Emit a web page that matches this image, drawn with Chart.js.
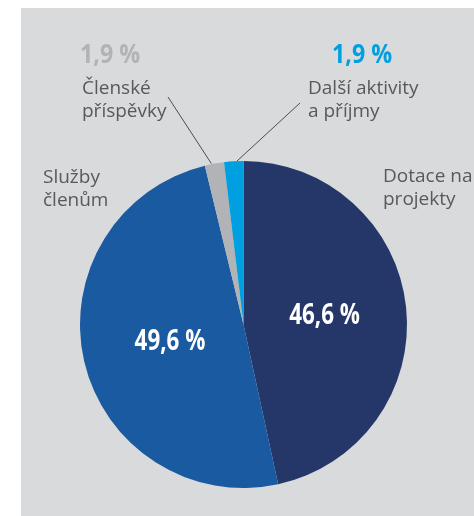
<!DOCTYPE html>
<html>
<head>
<meta charset="utf-8">
<script src="https://cdn.jsdelivr.net/npm/chart.js@4/dist/chart.umd.min.js"></script>
<style>
    html, body { margin: 0; padding: 0; background: #ffffff; }
    #wrap { position: relative; width: 474px; height: 516px; overflow: hidden; }
    #panel { position: absolute; left: 21px; top: 8px; width: 460px; height: 520px; background: #d9dadc; }
    #chart { position: absolute; left: 0; top: 0; }
</style>
</head>
<body>
<div id="wrap">
    <div id="panel"></div>
    <canvas id="chart" width="474" height="516"></canvas>
</div>
<script>
// order = clockwise from 12 o'clock
var categories = ['Dotace na projekty', 'Služby členům', 'Členské příspěvky', 'Další aktivity a příjmy'];
var shares = [46.6, 49.6, 1.9, 1.9];
var sliceColors = ['#253668', '#1a5aa0', '#b1b3b6', '#00a0e0'];

var TEXT_GREY = '#58595b';
var REGULAR = '"Open Sans", "Noto Sans", sans-serif';

function fmt(v) {
    return v.toFixed(1).replace('.', ',') + ' %';
}

// bold condensed look: squeeze the glyphs horizontally
function condensed(ctx, text, x, y, size, color, align, squeeze) {
    ctx.save();
    ctx.font = 'bold ' + size + 'px ' + REGULAR;
    ctx.fillStyle = color;
    ctx.textBaseline = 'alphabetic';
    var w = ctx.measureText(text).width * squeeze;
    var left = align === 'center' ? x - w / 2 : x;
    ctx.translate(left, y);
    ctx.scale(squeeze, 1);
    ctx.textAlign = 'left';
    ctx.fillText(text, 0, 0);
    ctx.restore();
}

function lines(ctx, rows, x, y) {
    ctx.save();
    ctx.font = '19px ' + REGULAR;
    ctx.fillStyle = TEXT_GREY;
    ctx.textAlign = 'left';
    ctx.textBaseline = 'alphabetic';
    rows.forEach(function (r, i) {
        ctx.fillText(r, x, y + i * 22.5);
    });
    ctx.restore();
}

function edgePoint(arc) {
    var mid = (arc.startAngle + arc.endAngle) / 2;
    return {
        x: arc.x + Math.cos(mid) * arc.outerRadius,
        y: arc.y + Math.sin(mid) * arc.outerRadius
    };
}

var labelPlugin = {
    id: 'sliceLabels',
    afterDatasetsDraw: function (chart) {
        var ctx = chart.ctx;
        var arcs = chart.getDatasetMeta(0).data;

        // big white values inside the two large slices
        [0, 1].forEach(function (i) {
            var a = arcs[i];
            var mid = (a.startAngle + a.endAngle) / 2;
            var d = a.outerRadius * 0.48;
            var x = a.x + Math.cos(mid) * d + 3;
            var y = a.y + Math.sin(mid) * d;
            condensed(ctx, fmt(shares[i]), x, y + 8, 28, '#ffffff', 'center', 0.8);
        });

        // leader lines for the two thin slices
        ctx.save();
        ctx.strokeStyle = '#4d4d4f';
        ctx.lineWidth = 1;
        var p = edgePoint(arcs[2]);
        ctx.beginPath();
        ctx.moveTo(168, 97);
        ctx.lineTo(p.x - 3, p.y);
        ctx.stroke();
        p = edgePoint(arcs[3]);
        ctx.beginPath();
        ctx.moveTo(300, 103);
        ctx.lineTo(p.x + 3, p.y);
        ctx.stroke();
        ctx.restore();

        condensed(ctx, fmt(shares[2]), 80, 63, 27, sliceColors[2], 'left', 0.86);
        lines(ctx, ['Členské', 'příspěvky'], 82, 94);
        condensed(ctx, fmt(shares[3]), 332, 63, 27, sliceColors[3], 'left', 0.86);
        lines(ctx, ['Další aktivity', 'a příjmy'], 308, 94);
        lines(ctx, ['Služby', 'členům'], 43, 183);
        lines(ctx, ['Dotace na', 'projekty'], 383, 182);
    }
};

new Chart(document.getElementById('chart'), {
    type: 'pie',
    data: {
        labels: categories,
        datasets: [{
            data: shares,
            backgroundColor: sliceColors,
            borderWidth: 0
        }]
    },
    options: {
        responsive: false,
        animation: false,
        layout: {
            padding: { left: 80, right: 67, top: 161, bottom: 28 }
        },
        plugins: {
            legend: { display: false },
            tooltip: { enabled: false }
        }
    },
    plugins: [labelPlugin]
});
</script>
</body>
</html>
